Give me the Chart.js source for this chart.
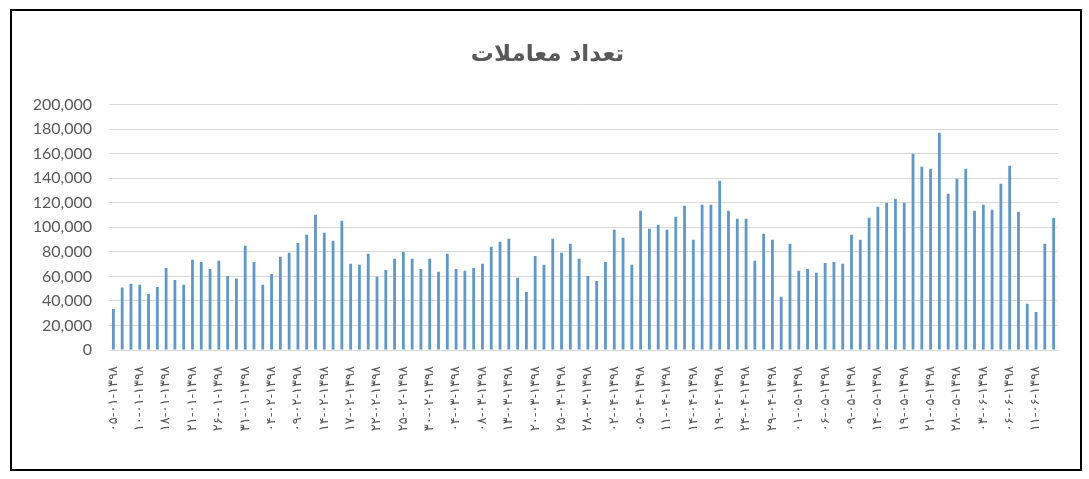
<!DOCTYPE html>
<html>
<head>
<meta charset="utf-8">
<script src="https://cdn.jsdelivr.net/npm/chart.js@4.4.1/dist/chart.umd.min.js"></script>
<style>
  body { margin: 0; background: #fff; }
  #wrap { position: relative; width: 1089px; height: 479px; }
  #frame {
    position: absolute; left: 10px; top: 9px; width: 1072px; height: 462px;
    box-sizing: border-box; border: 2px solid #000; pointer-events: none;
  }
</style>
</head>
<body>
<div id="wrap">
  <canvas id="chart" width="1089" height="479"></canvas>
  <div id="frame"></div>
</div>
<script>
// تعداد معاملات - هر میله یک روز معاملاتی
const values = [
  33500, 50900, 53900, 53100, 45700, 51400, 66900, 57100, 53100, 73500,
  71800, 66100, 72700, 60400, 58200, 84900, 71800, 53100, 62000, 75900,
  79200, 87300, 93900, 110200, 95500, 89000, 105300, 70200, 69400, 78400,
  59600, 65300, 74300, 80000, 74300, 66100, 74300, 63700, 78400, 66100,
  64500, 66900, 70200, 84100, 88200, 90600, 58800, 47300, 76700, 69400,
  90600, 79200, 86500, 74300, 60400, 56300, 71800, 98000, 91400, 69400,
  113500, 98800, 102000, 98000, 108600, 117600, 89800, 118400, 118400, 138000,
  113500, 106900, 106900, 72700, 94700, 89800, 43300, 86500, 64500, 66100,
  62900, 71000, 71800, 70200, 93900, 89800, 107800, 116700, 120000, 123300,
  120000, 160000, 149400, 147800, 177100, 127300, 139600, 147800, 113500, 118400,
  114300, 135500, 150200, 112700, 37600, 31000, 86500, 107800,
];

// برچسب تاریخ برای هر سه میله (به ترتیب نمایش)
const tickLabels = [
  "۰۵-۰۱-۱۳۹۸", "۱۰-۰۱-۱۳۹۸", "۱۸-۰۱-۱۳۹۸", "۲۱-۰۱-۱۳۹۸", "۲۶-۰۱-۱۳۹۸", "۳۱-۰۱-۱۳۹۸",
  "۰۴-۰۲-۱۳۹۸", "۰۹-۰۲-۱۳۹۸", "۱۴-۰۲-۱۳۹۸", "۱۷-۰۲-۱۳۹۸", "۲۲-۰۲-۱۳۹۸", "۲۵-۰۲-۱۳۹۸",
  "۳۰-۰۲-۱۳۹۸", "۰۴-۰۳-۱۳۹۸", "۰۸-۰۳-۱۳۹۸", "۱۳-۰۳-۱۳۹۸", "۲۰-۰۳-۱۳۹۸", "۲۵-۰۳-۱۳۹۸",
  "۲۸-۰۳-۱۳۹۸", "۰۲-۰۴-۱۳۹۸", "۰۵-۰۴-۱۳۹۸", "۱۱-۰۴-۱۳۹۸", "۱۴-۰۴-۱۳۹۸", "۱۹-۰۴-۱۳۹۸",
  "۲۴-۰۴-۱۳۹۸", "۲۹-۰۴-۱۳۹۸", "۰۱-۰۵-۱۳۹۸", "۰۶-۰۵-۱۳۹۸", "۰۹-۰۵-۱۳۹۸", "۱۴-۰۵-۱۳۹۸",
  "۱۹-۰۵-۱۳۹۸", "۲۱-۰۵-۱۳۹۸", "۲۸-۰۵-۱۳۹۸", "۰۳-۰۶-۱۳۹۸", "۰۶-۰۶-۱۳۹۸", "۱۱-۰۶-۱۳۹۸",
];
const labelEvery = 3;
const categories = values.map((v, i) => i);

// فاصله بین حروف فقط برای برچسب‌های محور افقی (لایه z=1 بعد از میله‌ها)
const spacing = {
  id: "spacing",
  afterDatasetsDraw(chart) { chart.ctx.letterSpacing = "3px"; },
  afterDraw(chart) { chart.ctx.letterSpacing = "0px"; },
};

const ctx = document.getElementById("chart");
const chart = new Chart(ctx, {
  type: "bar",
  data: {
    labels: categories,
    datasets: [
      {
        label: "تعداد معاملات",
        data: values,
        backgroundColor: "#5f98cc",
        barPercentage: 0.32,
        categoryPercentage: 1,
      },
    ],
  },
  plugins: [spacing],
  options: {
    responsive: false,
    animation: false,
    devicePixelRatio: 1,
    layout: { padding: { left: 6, right: 0, top: 0, bottom: 0 } },
    plugins: {
      legend: { display: false },
      tooltip: { enabled: false },
      title: {
        display: true,
        text: "تعداد معاملات",
        color: "#595959",
        font: { family: "DejaVu Sans", size: 23, weight: "bold" },
        padding: { top: 41, bottom: 36 },
      },
    },
    scales: {
      x: {
        grid: { display: false },
        border: { color: "#d9d9d9", width: 1 },
        afterFit: (s) => { s.height = 129; },
        ticks: {
          z: 1,
          autoSkip: false,
          minRotation: 90,
          maxRotation: 90,
          padding: 8,
          color: "#595959",
          font: { family: "DejaVu Sans", size: 13 },
          callback: (v, i) => (i % labelEvery === 0 ? tickLabels[i / labelEvery] : ""),
        },
      },
      y: {
        min: 0,
        max: 200000,
        grid: { color: "#d9d9d9", drawTicks: false },
        border: { display: false },
        afterFit: (s) => { s.width = 103; },
        ticks: {
          stepSize: 20000,
          padding: 17,
          color: "#595959",
          font: { family: "Lato", size: 16 },
        },
      },
      yRight: {
        position: "right",
        grid: { display: false, drawTicks: false },
        border: { display: false },
        ticks: { display: false },
        afterFit: (s) => { s.width = 31; },
      },
    },
  },
});
</script>
</body>
</html>
